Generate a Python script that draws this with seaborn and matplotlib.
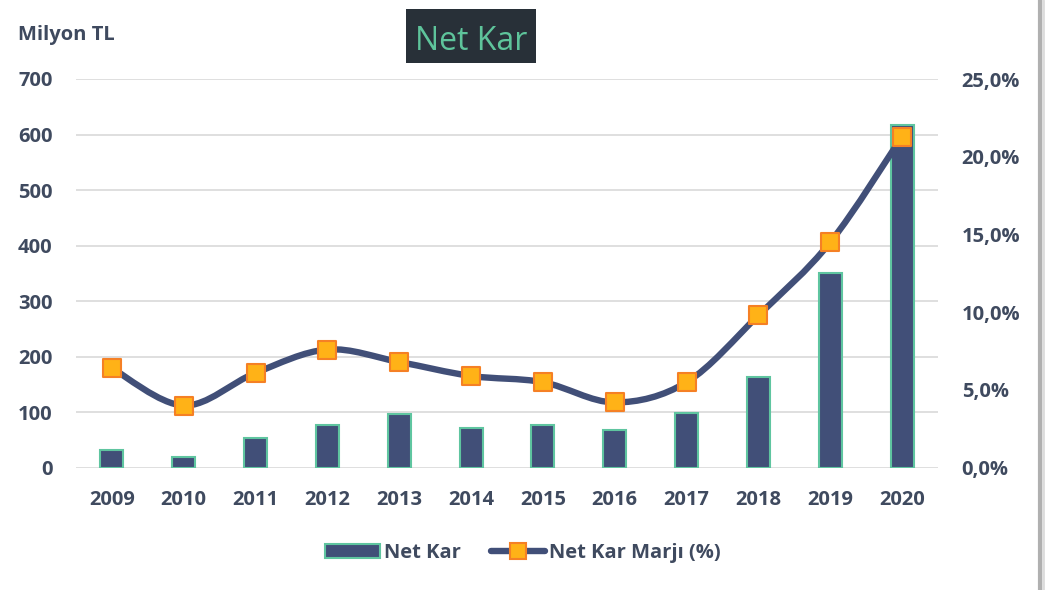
import matplotlib
matplotlib.use("Agg")
import matplotlib.pyplot as plt
import numpy as np
import pandas as pd
import seaborn as sns
from matplotlib.lines import Line2D
from matplotlib.patches import Patch, PathPatch, Rectangle
from matplotlib.path import Path
from matplotlib.ticker import FuncFormatter

years = ["2009", "2010", "2011", "2012", "2013", "2014",
         "2015", "2016", "2017", "2018", "2019", "2020"]
net_kar = [31, 20, 54, 77, 97, 72, 77, 68, 99, 164, 351, 617]
net_kar_marji = [6.4, 4.0, 6.1, 7.6, 6.8, 5.9, 5.5, 4.2, 5.5, 9.8, 14.5, 21.3]

TEXT = "#3f4a5f"
BAR = "#414f78"
BAR_EDGE = "#5fc5a0"
LINE = "#414f78"
MK_FACE = "#ffb217"
MK_EDGE = "#f58025"
GRID = "#d9d9d9"

sns.set_theme(style="white")
plt.rcParams["font.family"] = ["Open Sans", "DejaVu Sans"]

df = pd.DataFrame({"yil": years, "net_kar": net_kar, "marj": net_kar_marji})

fig = plt.figure(figsize=(10.53, 5.9), dpi=100)
ax = fig.add_axes([76 / 1053, 1 - 467.7 / 590, (938 - 76) / 1053, (467.7 - 79) / 590])

sns.barplot(data=df, x="yil", y="net_kar", ax=ax, color=BAR, width=0.32,
            edgecolor=BAR_EDGE, linewidth=1.5, saturation=1, zorder=2)
ax.set_xlim(-0.5, len(years) - 0.5)
ax.set_ylim(0, 700)
ax.set_yticks(range(0, 701, 100))
ax.set_xlabel("")
ax.set_ylabel("")
ax.grid(axis="y", color=GRID, linewidth=1.2, zorder=0)
ax.set_axisbelow(True)
for s in ax.spines.values():
    s.set_visible(False)
ax.tick_params(axis="both", length=0, labelsize=14.5, labelcolor=TEXT)
ax.tick_params(axis="y", pad=17)
ax.tick_params(axis="x", pad=16)
for lbl in ax.get_xticklabels() + ax.get_yticklabels():
    lbl.set_fontweight("bold")

ax2 = ax.twinx()
ax2.set_ylim(0, 25)
ax2.set_yticks(range(0, 26, 5))
ax2.yaxis.set_major_formatter(FuncFormatter(lambda v, p: f"{v:.1f}".replace(".", ",") + "%"))
for s in ax2.spines.values():
    s.set_visible(False)
ax2.tick_params(axis="y", length=0, labelsize=14.5, labelcolor=TEXT, pad=17)
for lbl in ax2.get_yticklabels():
    lbl.set_fontweight("bold")

# smoothed line (Catmull-Rom style bezier through the points)
xs = np.arange(len(years), dtype=float)
ys = np.array(net_kar_marji, dtype=float)
pts = np.column_stack([xs, ys])
ext = np.vstack([pts[0], pts, pts[-1]])
verts = [tuple(pts[0])]
codes = [Path.MOVETO]
for i in range(len(pts) - 1):
    p0, p1, p2, p3 = ext[i], ext[i + 1], ext[i + 2], ext[i + 3]
    c1 = p1 + (p2 - p0) / 6
    c2 = p2 - (p3 - p1) / 6
    verts += [tuple(c1), tuple(c2), tuple(p2)]
    codes += [Path.CURVE4] * 3
ax2.add_patch(PathPatch(Path(verts, codes), facecolor="none", edgecolor=LINE,
                        linewidth=4.6, capstyle="round", zorder=3))
sns.scatterplot(x=xs, y=ys, ax=ax2, marker="s", s=150, color=MK_FACE,
                edgecolor=MK_EDGE, linewidth=1.5, zorder=4, legend=False)
ax2.set_xlim(-0.5, len(years) - 0.5)

# legend
handles = [
    Patch(facecolor=BAR, edgecolor=BAR_EDGE, linewidth=1.5),
    Line2D([0], [0], color=LINE, linewidth=4.6, marker="s", markersize=12,
           markerfacecolor=MK_FACE, markeredgecolor=MK_EDGE, markeredgewidth=1.5,
           solid_capstyle="round"),
]
leg = fig.legend(handles, ["Net Kar", "Net Kar Marjı (%)"], loc="center",
                 bbox_to_anchor=(523 / 1053, 1 - 553 / 590), ncol=2, frameon=False,
                 handlelength=2.7, handleheight=0.65, handletextpad=0.2,
                 columnspacing=1.5, prop={"size": 14.5, "weight": "bold"})
for t in leg.get_texts():
    t.set_color(TEXT)

# header texts
fig.text(18 / 1053, 1 - 40 / 590, "Milyon TL", fontsize=14.5, fontweight="bold",
         color=TEXT, va="baseline", ha="left")
fig.patches.append(Rectangle((406 / 1053, 1 - 63 / 590), 130 / 1053, 54 / 590,
                             transform=fig.transFigure, facecolor="#283038",
                             edgecolor="none"))
fig.text(471 / 1053, 1 - 50 / 590, "Net Kar", fontsize=23, color="#5ec49b",
         va="baseline", ha="center")

# frame shadow on the right
fig.add_artist(Line2D([1040 / 1053, 1040 / 1053], [0, 1], transform=fig.transFigure,
                      color="#b0b0b0", linewidth=3))
fig.add_artist(Line2D([1043 / 1053, 1043 / 1053], [0, 1], transform=fig.transFigure,
                      color="#dcdcdc", linewidth=2))

fig.savefig("out.png", dpi=100)
